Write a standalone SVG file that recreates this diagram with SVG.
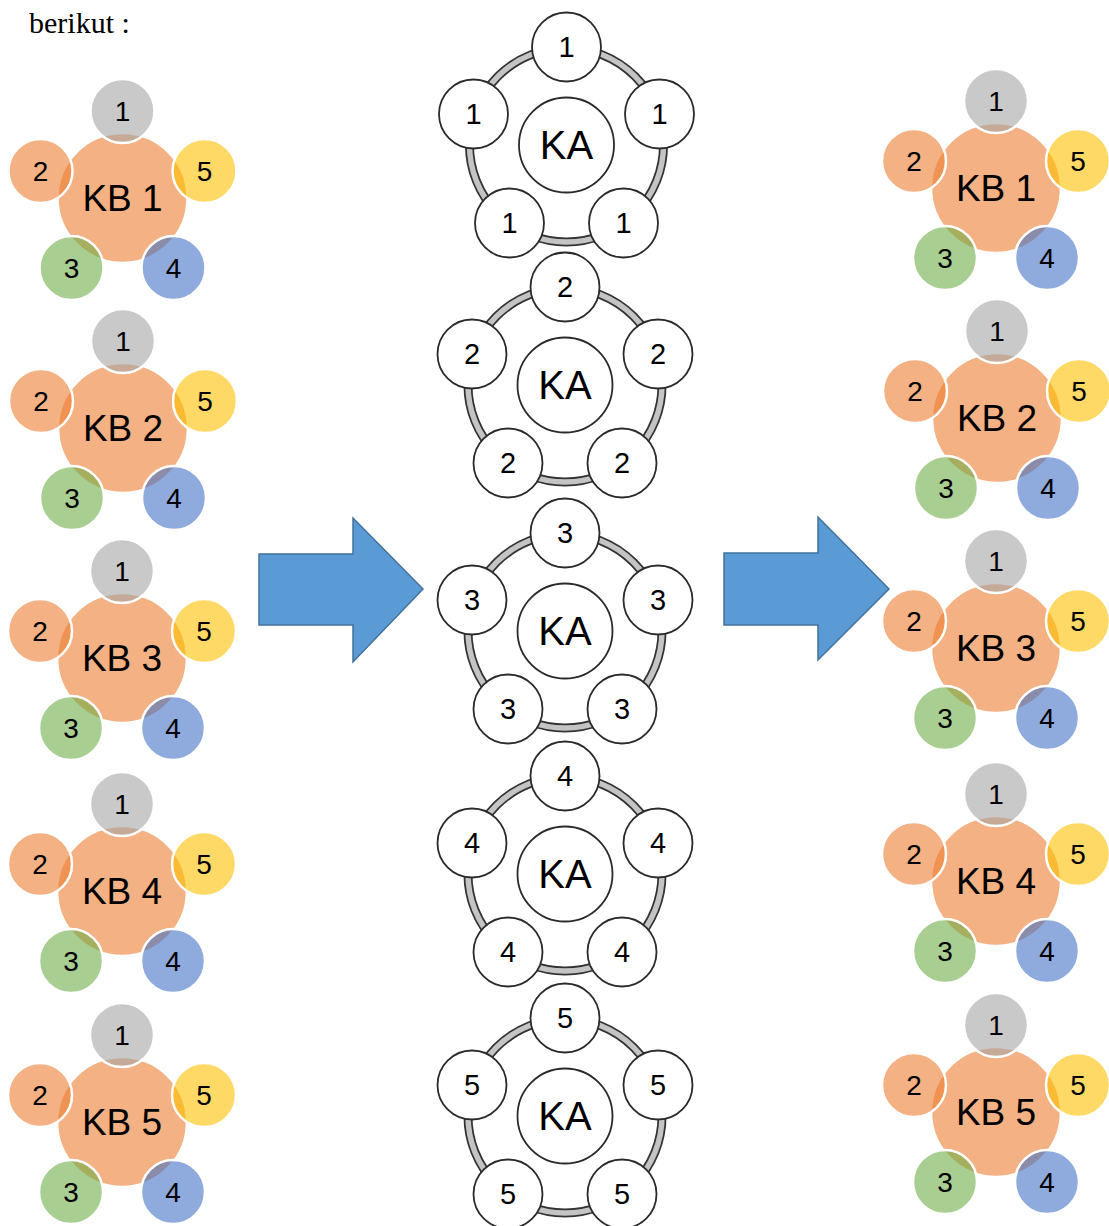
<svg xmlns="http://www.w3.org/2000/svg" width="1109" height="1226" viewBox="0 0 1109 1226">
<style>
.main{fill:#ED7D31;fill-opacity:.6;stroke:#fff;stroke-width:2.5}
.c1{fill:#A5A5A5;fill-opacity:.6;stroke:#fff;stroke-width:2.5}
.c2{fill:#ED7D31;fill-opacity:.6;stroke:#fff;stroke-width:2.5}
.c3{fill:#70AD47;fill-opacity:.6;stroke:#fff;stroke-width:2.5}
.c4{fill:#4472C4;fill-opacity:.6;stroke:#fff;stroke-width:2.5}
.c5{fill:#FFC000;fill-opacity:.6;stroke:#fff;stroke-width:2.5}
text{font-family:"Liberation Sans",Arial,sans-serif;text-anchor:middle;fill:#000}
.num{font-size:28px}
.kb{font-size:37px}
.ringo{fill:none;stroke:#333;stroke-width:9}
.ringi{fill:none;stroke:#C4C4C4;stroke-width:5.5}
.kac{fill:#fff;stroke:#2a2a2a;stroke-width:1.8}
.ka{font-size:40px}
.kan{font-size:29px}
.arrow{fill:#5B9BD5;stroke:#41719C;stroke-width:1.5}
</style>
<defs>
<g id="kbshape">
<circle class="main" cx="0" cy="0" r="65"/>
<circle class="c1" cx="0" cy="-87" r="32"/>
<circle class="c2" cx="-82" cy="-27" r="32"/>
<circle class="c5" cx="82" cy="-27" r="32"/>
<circle class="c3" cx="-51" cy="70" r="32"/>
<circle class="c4" cx="51" cy="70" r="32"/>
<text class="num" x="0" y="-77">1</text>
<text class="num" x="-82" y="-17">2</text>
<text class="num" x="82" y="-17">5</text>
<text class="num" x="-51" y="80">3</text>
<text class="num" x="51" y="80">4</text>
</g>
<g id="kashape">
<circle class="ringo" cx="0" cy="0" r="97"/>
<circle class="ringi" cx="0" cy="0" r="97"/>
<circle class="kac" cx="0" cy="0" r="47.5"/>
<circle class="kac" cx="0" cy="-98" r="34.5"/>
<circle class="kac" cx="-93" cy="-31" r="34.5"/>
<circle class="kac" cx="93" cy="-31" r="34.5"/>
<circle class="kac" cx="-57" cy="78" r="34.5"/>
<circle class="kac" cx="57" cy="78" r="34.5"/>
<text class="ka" x="0" y="14">KA</text>
</g>
</defs>

<text x="29" y="33" style="font-family:'Liberation Serif','Times New Roman',serif;font-size:30px;text-anchor:start">berikut :</text>

<g id="kb-left-1" transform="translate(122.5,198)"><use href="#kbshape"/><text class="kb" x="0" y="13">KB 1</text></g>
<g id="kb-left-2" transform="translate(123,428)"><use href="#kbshape"/><text class="kb" x="0" y="13">KB 2</text></g>
<g id="kb-left-3" transform="translate(122,658)"><use href="#kbshape"/><text class="kb" x="0" y="13">KB 3</text></g>
<g id="kb-left-4" transform="translate(122,891)"><use href="#kbshape"/><text class="kb" x="0" y="13">KB 4</text></g>
<g id="kb-left-5" transform="translate(122,1122)"><use href="#kbshape"/><text class="kb" x="0" y="13">KB 5</text></g>

<g id="ka-1" transform="translate(566.5,145)"><use href="#kashape"/>
<text class="kan" x="0" y="-88">1</text><text class="kan" x="-93" y="-21">1</text><text class="kan" x="93" y="-21">1</text><text class="kan" x="-57" y="88">1</text><text class="kan" x="57" y="88">1</text></g>
<g id="ka-2" transform="translate(565,385)"><use href="#kashape"/>
<text class="kan" x="0" y="-88">2</text><text class="kan" x="-93" y="-21">2</text><text class="kan" x="93" y="-21">2</text><text class="kan" x="-57" y="88">2</text><text class="kan" x="57" y="88">2</text></g>
<g id="ka-3" transform="translate(565,631)"><use href="#kashape"/>
<text class="kan" x="0" y="-88">3</text><text class="kan" x="-93" y="-21">3</text><text class="kan" x="93" y="-21">3</text><text class="kan" x="-57" y="88">3</text><text class="kan" x="57" y="88">3</text></g>
<g id="ka-4" transform="translate(565,874)"><use href="#kashape"/>
<text class="kan" x="0" y="-88">4</text><text class="kan" x="-93" y="-21">4</text><text class="kan" x="93" y="-21">4</text><text class="kan" x="-57" y="88">4</text><text class="kan" x="57" y="88">4</text></g>
<g id="ka-5" transform="translate(565,1116)"><use href="#kashape"/>
<text class="kan" x="0" y="-88">5</text><text class="kan" x="-93" y="-21">5</text><text class="kan" x="93" y="-21">5</text><text class="kan" x="-57" y="88">5</text><text class="kan" x="57" y="88">5</text></g>

<g id="kb-right-1" transform="translate(996,188)"><use href="#kbshape"/><text class="kb" x="0" y="13">KB 1</text></g>
<g id="kb-right-2" transform="translate(997,418)"><use href="#kbshape"/><text class="kb" x="0" y="13">KB 2</text></g>
<g id="kb-right-3" transform="translate(996,648)"><use href="#kbshape"/><text class="kb" x="0" y="13">KB 3</text></g>
<g id="kb-right-4" transform="translate(996,881)"><use href="#kbshape"/><text class="kb" x="0" y="13">KB 4</text></g>
<g id="kb-right-5" transform="translate(996,1112)"><use href="#kbshape"/><text class="kb" x="0" y="13">KB 5</text></g>

<g id="connectors">
<polygon class="arrow" points="259,554 353,554 353,518 423,589 353,662 353,625 259,625"/>
<polygon class="arrow" points="724,553 818,553 818,517 889,589 818,660 818,625 724,625"/>
</g>
</svg>
